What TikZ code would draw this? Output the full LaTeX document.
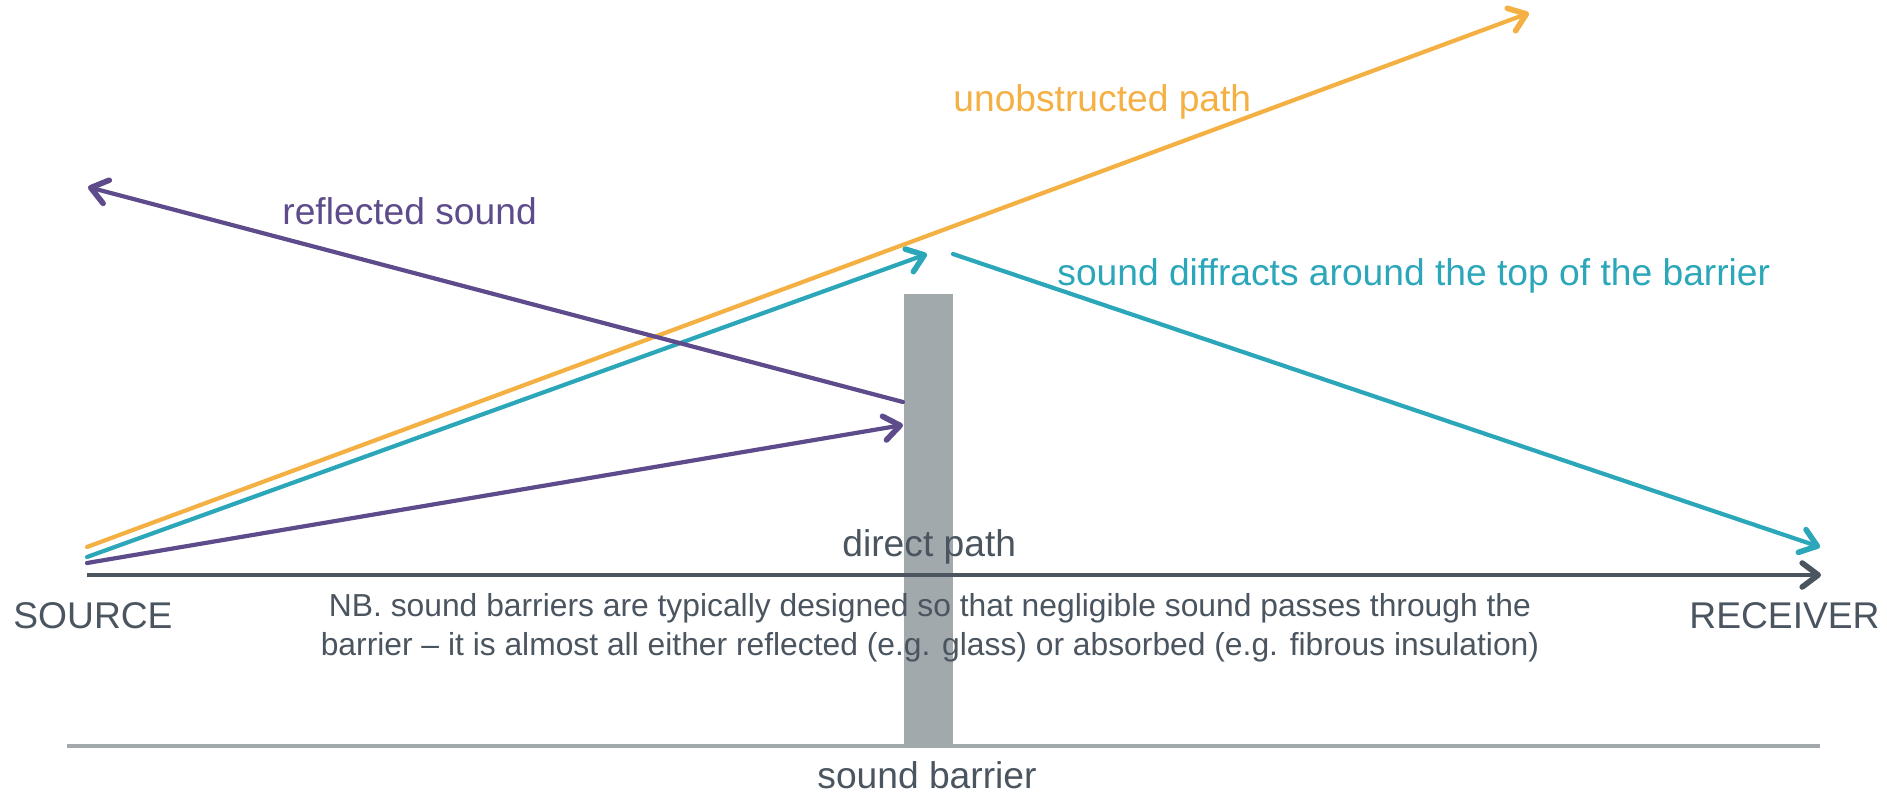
\documentclass[tikz,border=0pt]{standalone}
\usepackage{fontspec}
\setmainfont{Liberation Sans}
\usetikzlibrary{arrows.meta}
\definecolor{orng}{HTML}{F4B042}
\definecolor{teal2}{HTML}{2BA7B9}
\definecolor{purp}{HTML}{5E4B8B}
\definecolor{dgray}{HTML}{4A5560}
\definecolor{bgray}{HTML}{A2A9AD}
\tikzset{
  ray/.style={line width=2.1pt, line cap=round, -{Straight Barb[length=8pt,width=12pt,line width=2.8pt,line cap=round,line join=round]}},
  lbl/.style={inner sep=0pt, font=\fontsize{18.6}{22}\selectfont},
}
\begin{document}
\begin{tikzpicture}[x=0.5pt,y=-0.5pt]
\useasboundingbox (0,0) rectangle (1887,794);
% barrier and ground
\fill[bgray] (904,294) rectangle (953,745);
\coordinate (g1) at (67,746);
\coordinate (g2) at (1820,746);
\draw[bgray, line width=1.7pt] (g1) -- (g2);
% coordinates
\coordinate (oS) at (87,547);
\coordinate (oE) at (1529,13);
\coordinate (tS) at (87,557);
\coordinate (tT) at (927,254);
\coordinate (tB) at (953,254);
\coordinate (tE) at (1820,547);
\coordinate (pS) at (87,563);
\coordinate (pT) at (903,425);
\coordinate (pB) at (903,402);
\coordinate (pE) at (88,187);
\coordinate (dS) at (87,575);
\coordinate (dE) at (1821,575);
% rays
\draw[ray, orng] (oS) -- (oE);
\draw[ray, teal2] (tS) -- (tT);
\draw[ray, teal2] (tB) -- (tE);
\draw[ray, purp] (pS) -- (pT);
\draw[ray, purp] (pB) -- (pE);
\draw[ray, dgray, line width=2.3pt, line cap=butt] (dS) -- (dE);
% labels
\node[lbl, anchor=base west, text=orng] (lu) at (953,111) {unobstructed path};
\node[lbl, anchor=base west, text=purp] (lr) at (282,224) {reflected sound};
\node[lbl, anchor=base west, text=teal2] (ld) at (1057,285) {sound diffracts around the top of the barrier};
\node[lbl, anchor=base west, text=dgray] (lp) at (842,556) {direct path};
\node[lbl, anchor=base west, text=dgray] (ls) at (13,628) {SOURCE};
\node[lbl, anchor=base east, text=dgray] (lre) at (1880,628) {RECEIVER};
\node[lbl, anchor=base west, text=dgray] (lb) at (817,788) {sound barrier};
\node[inner sep=0pt, anchor=base, text=dgray, align=center, font=\fontsize{15.9}{19.3}\selectfont] (nb) at (930,655) {NB. sound barriers are typically designed so that negligible sound passes through the\\barrier -- it is almost all either reflected (e.g. glass) or absorbed (e.g. fibrous insulation)};
\end{tikzpicture}
\end{document}
